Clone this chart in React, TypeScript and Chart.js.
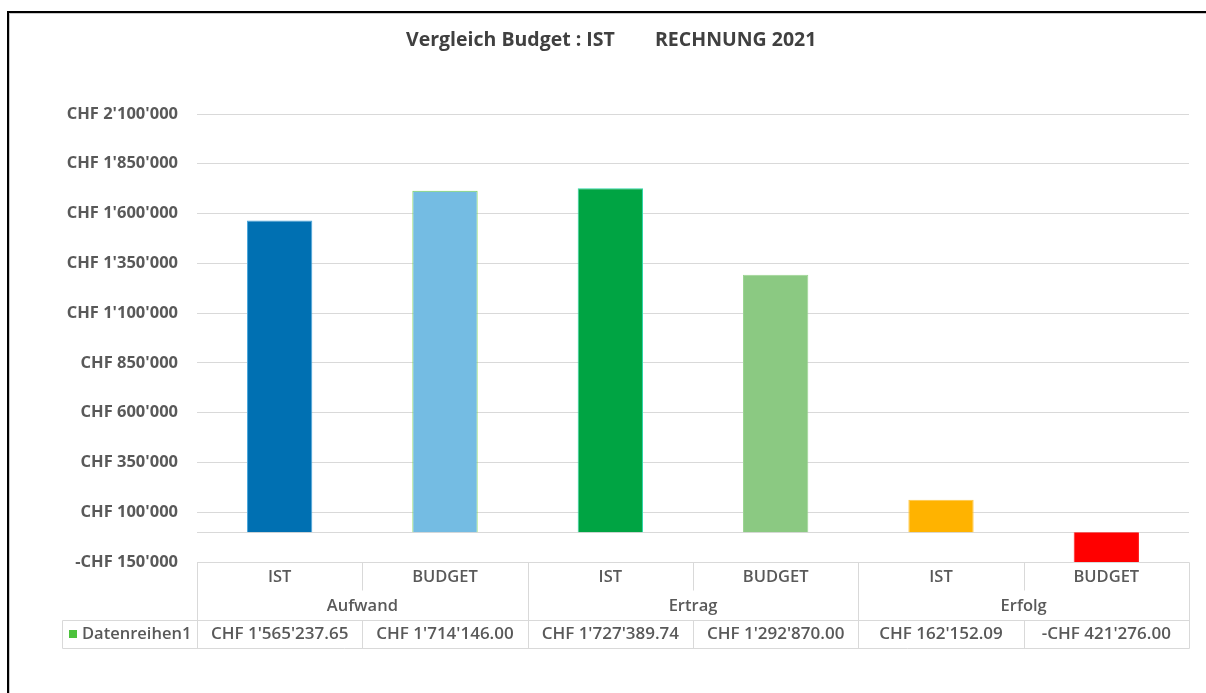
import React, { useEffect, useRef } from "react";
import { Chart, registerables } from "chart.js";

Chart.register(...registerables);

const titleLeft = "Vergleich Budget : IST";
const titleRight = "RECHNUNG 2021";
const groups = ["Aufwand", "Ertrag", "Erfolg"];
const subLabels = ["IST", "BUDGET", "IST", "BUDGET", "IST", "BUDGET"];
const values = [1565237.65, 1714146.0, 1727389.74, 1292870.0, 162152.09, -421276.0];
const barColors = ["#0070B2", "#74BCE3", "#00A443", "#8BC982", "#FFB300", "#FF0000"];
const barBorders = ["#4aa6dc", "#7ad552", "#2fd6a8", "#9ad491", "#ffc640", "#ff2020"];
const seriesName = "Datenreihen1";
const legendColor = "#4CC23C";
const yTicks = [-150000, 100000, 350000, 600000, 850000, 1100000, 1350000, 1600000, 1850000, 2100000];

const FONT = "'Open Sans', 'DejaVu Sans', sans-serif";
const TEXT_COLOR = "#595959";
const LINE_COLOR = "#d9d9d9";

function groupDigits(s: string): string {
  return s.replace(/\B(?=(\d{3})+(?!\d))/g, "'");
}
function fmtTick(v: number): string {
  const sign = v < 0 ? "-" : "";
  return sign + "CHF " + groupDigits(String(Math.round(Math.abs(v))));
}
function fmtVal(v: number): string {
  const sign = v < 0 ? "-" : "";
  const [i, d] = Math.abs(v).toFixed(2).split(".");
  return sign + "CHF " + groupDigits(i) + "." + d;
}

const decorPlugin = {
  id: "decor",
  beforeDatasetsDraw(chart: any) {
    const { ctx, chartArea } = chart;
    const y0 = Math.round(chart.scales.y.getPixelForValue(0)) + 0.5;
    ctx.save();
    ctx.strokeStyle = LINE_COLOR;
    ctx.lineWidth = 1;
    ctx.beginPath();
    ctx.moveTo(chartArea.left, y0);
    ctx.lineTo(chartArea.right, y0);
    ctx.stroke();
    ctx.restore();
  },
  afterDraw(chart: any) {
    const { ctx, chartArea } = chart;
    const left = chartArea.left;
    const right = chartArea.right;
    const top = chartArea.bottom;
    const n = subLabels.length;
    const w = (right - left) / n;
    const row1 = top + 30;
    const row2 = top + 58;
    const row3 = top + 86;
    const legendLeft = 62;

    ctx.save();
    // frame
    ctx.fillStyle = "#000";
    ctx.fillRect(7, 11, chart.width - 7, 2);
    ctx.fillRect(7, 11, 2, chart.height - 11);
    ctx.fillStyle = "#c8c8c8";
    ctx.fillRect(9, 13, chart.width - 9, 1);
    ctx.fillRect(9, 13, 1, chart.height - 13);

    // title
    ctx.fillStyle = "#404040";
    ctx.font = `bold 19.5px ${FONT}`;
    ctx.textBaseline = "middle";
    ctx.textAlign = "left";
    ctx.fillText(titleLeft, 406, 40);
    ctx.fillText(titleRight, 655, 40);

    // table lines
    ctx.strokeStyle = LINE_COLOR;
    ctx.lineWidth = 1;
    const line = (x1: number, y1: number, x2: number, y2: number) => {
      ctx.beginPath();
      ctx.moveTo(x1, y1);
      ctx.lineTo(x2, y2);
      ctx.stroke();
    };
    const px = (v: number) => Math.round(v) + 0.5;
    line(px(left), px(top), px(left), px(row3));
    line(px(right), px(top), px(right), px(row3));
    line(px(left), px(top), px(right), px(top));
    line(px(legendLeft), px(row2), px(right), px(row2));
    line(px(legendLeft), px(row3), px(right), px(row3));
    line(px(legendLeft), px(row2), px(legendLeft), px(row3));
    const perGroup = n / groups.length;
    for (let i = 1; i < n; i++) {
      const x = px(left + i * w);
      if (i % perGroup === 0) {
        line(x, px(top), x, px(row3));
      } else {
        line(x, px(top), x, px(row1 - 2));
        line(x, px(row2), x, px(row3));
      }
    }

    // texts
    ctx.fillStyle = TEXT_COLOR;
    ctx.textAlign = "center";
    ctx.textBaseline = "middle";
    for (let i = 0; i < n; i++) {
      const cx = left + (i + 0.5) * w;
      ctx.font = `600 16.5px ${FONT}`;
      ctx.fillText(subLabels[i], cx, top + 15);
      ctx.font = `600 17px ${FONT}`;
      ctx.fillText(fmtVal(values[i]), cx, row2 + 14);
    }
    ctx.font = `600 16.5px ${FONT}`;
    for (let g = 0; g < groups.length; g++) {
      const cx = left + (g + 0.5) * w * perGroup;
      ctx.fillText(groups[g], cx, row1 + 14);
    }
    // legend key
    ctx.fillStyle = legendColor;
    ctx.fillRect(69, row2 + 10, 8, 8);
    ctx.fillStyle = TEXT_COLOR;
    ctx.textAlign = "left";
    ctx.fillText(seriesName, 82, row2 + 14);
    ctx.restore();
  },
};

export default function App() {
  const ref = useRef<HTMLCanvasElement | null>(null);
  useEffect(() => {
    document.body.style.margin = "0";
    const canvas = ref.current!;
    const chart = new Chart(canvas, {
      type: "bar",
      data: {
        labels: subLabels,
        datasets: [
          {
            label: seriesName,
            data: values,
            backgroundColor: barColors,
            borderColor: barBorders,
            borderWidth: 1,
            barPercentage: 0.395,
            categoryPercentage: 1,
            clip: 0,
          } as any,
        ],
      },
      options: {
        animation: false,
        responsive: false,
        devicePixelRatio: 1,
        layout: { padding: { left: 0, right: 17, top: 114, bottom: 131 } },
        plugins: { legend: { display: false }, title: { display: false }, tooltip: { enabled: false } },
        scales: {
          x: { display: false },
          y: {
            min: yTicks[0],
            max: yTicks[yTicks.length - 1],
            afterFit: (scale: any) => {
              scale.width = 197;
            },
            afterBuildTicks: (scale: any) => {
              scale.ticks = yTicks.map((v) => ({ value: v }));
            },
            border: { display: false },
            grid: { color: LINE_COLOR, lineWidth: 1, drawTicks: false },
            ticks: {
              padding: 19,
              color: TEXT_COLOR,
              font: { family: FONT, size: 16.5, weight: "bold" },
              callback: (v: any) => fmtTick(Number(v)),
            },
          },
        },
      },
      plugins: [decorPlugin],
    });
    return () => chart.destroy();
  }, []);
  return (
    <canvas
      ref={ref}
      width={1206}
      height={693}
      style={{ position: "fixed", left: 0, top: 0, width: 1206, height: 693, background: "#fff" }}
    />
  );
}
